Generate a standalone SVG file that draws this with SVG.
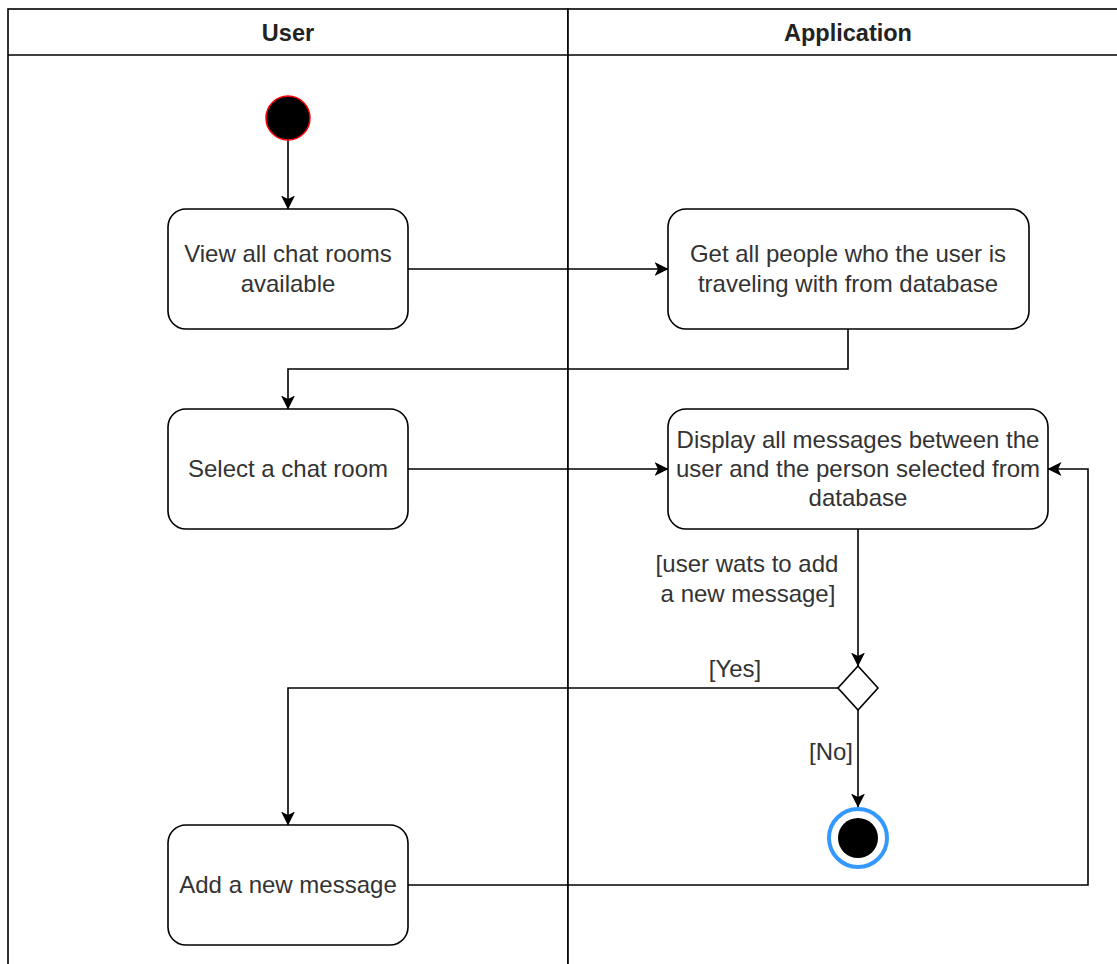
<svg xmlns="http://www.w3.org/2000/svg" width="1117" height="964" viewBox="0 0 1117 964">
  <style>
    .lane { fill: #ffffff; stroke: #000000; stroke-width: 1.6; }
    .head { font-family: "Liberation Sans", Arial, sans-serif; font-size: 23.5px; font-weight: bold; fill: #222222; text-anchor: middle; }
    .act { fill: #ffffff; stroke: #000000; stroke-width: 1.6; }
    .txt { font-family: "Liberation Sans", Arial, sans-serif; font-size: 24px; fill: #333333; text-anchor: middle; }
    .edge { fill: none; stroke: #000000; stroke-width: 1.6; marker-end: url(#arrow); }
  </style>
  <defs>
    <marker id="arrow" viewBox="0 0 14 14" refX="13.5" refY="7" markerWidth="14" markerHeight="14" markerUnits="userSpaceOnUse" orient="auto">
      <path d="M0,0 L14,7 L0,14 L3.5,7 Z" fill="#000000"/>
    </marker>
  </defs>
  <rect width="1117" height="964" fill="#ffffff"/>

  <!-- swimlanes -->
  <g id="lane-user">
    <rect class="lane" x="8" y="9" width="560" height="970"/>
    <line x1="8" y1="55" x2="568" y2="55" stroke="#000" stroke-width="1.6"/>
    <text class="head" x="288" y="41">User</text>
  </g>
  <g id="lane-application">
    <rect class="lane" x="568" y="9" width="570" height="970"/>
    <line x1="568" y1="55" x2="1138" y2="55" stroke="#000" stroke-width="1.6"/>
    <text class="head" x="848" y="41">Application</text>
  </g>

  <!-- connectors -->
  <g id="connectors">
    <path class="edge" d="M288,140 L288,209"/>
    <path class="edge" d="M408,269 L668,269"/>
    <path class="edge" d="M848,329 L848,369 L288,369 L288,409"/>
    <path class="edge" d="M408,469 L668,469"/>
    <path class="edge" d="M858,529 L858,666"/>
    <path class="edge" d="M838,688 L288,688 L288,825"/>
    <path class="edge" d="M858,710 L858,807"/>
    <path class="edge" d="M408,885 L1088,885 L1088,469 L1048,469"/>
    <text class="txt" x="747" y="572">[user wats to add</text>
    <text class="txt" x="748" y="602">a new message]</text>
    <text class="txt" x="735" y="677">[Yes]</text>
    <text class="txt" x="831" y="760">[No]</text>
  </g>

  <!-- nodes -->
  <g id="start">
    <circle cx="288" cy="118" r="22" fill="#000000" stroke="#ff0000" stroke-width="1.5"/>
  </g>
  <g id="view-rooms">
    <rect class="act" x="168" y="209" width="240" height="120" rx="18"/>
    <text class="txt" x="288" y="262">View all chat rooms</text>
    <text class="txt" x="288" y="292">available</text>
  </g>
  <g id="get-people">
    <rect class="act" x="668" y="209" width="361" height="120" rx="18"/>
    <text class="txt" x="848" y="262">Get all people who the user is</text>
    <text class="txt" x="848" y="292">traveling with from database</text>
  </g>
  <g id="select-room">
    <rect class="act" x="168" y="409" width="240" height="120" rx="18"/>
    <text class="txt" x="288" y="477">Select a chat room</text>
  </g>
  <g id="display-messages">
    <rect class="act" x="668" y="409" width="380" height="120" rx="18"/>
    <text class="txt" x="858" y="448">Display all messages between the</text>
    <text class="txt" x="858" y="477">user and the person selected from</text>
    <text class="txt" x="858" y="506">database</text>
  </g>
  <g id="decision">
    <polygon points="858,666 878,688 858,710 838,688" fill="#ffffff" stroke="#000000" stroke-width="1.6"/>
  </g>
  <g id="add-message">
    <rect class="act" x="168" y="825" width="240" height="120" rx="18"/>
    <text class="txt" x="288" y="893">Add a new message</text>
  </g>
  <g id="end">
    <circle cx="858" cy="838" r="29" fill="#ffffff" stroke="#3399ff" stroke-width="4"/>
    <circle cx="858" cy="838" r="20" fill="#000000"/>
  </g>
</svg>
